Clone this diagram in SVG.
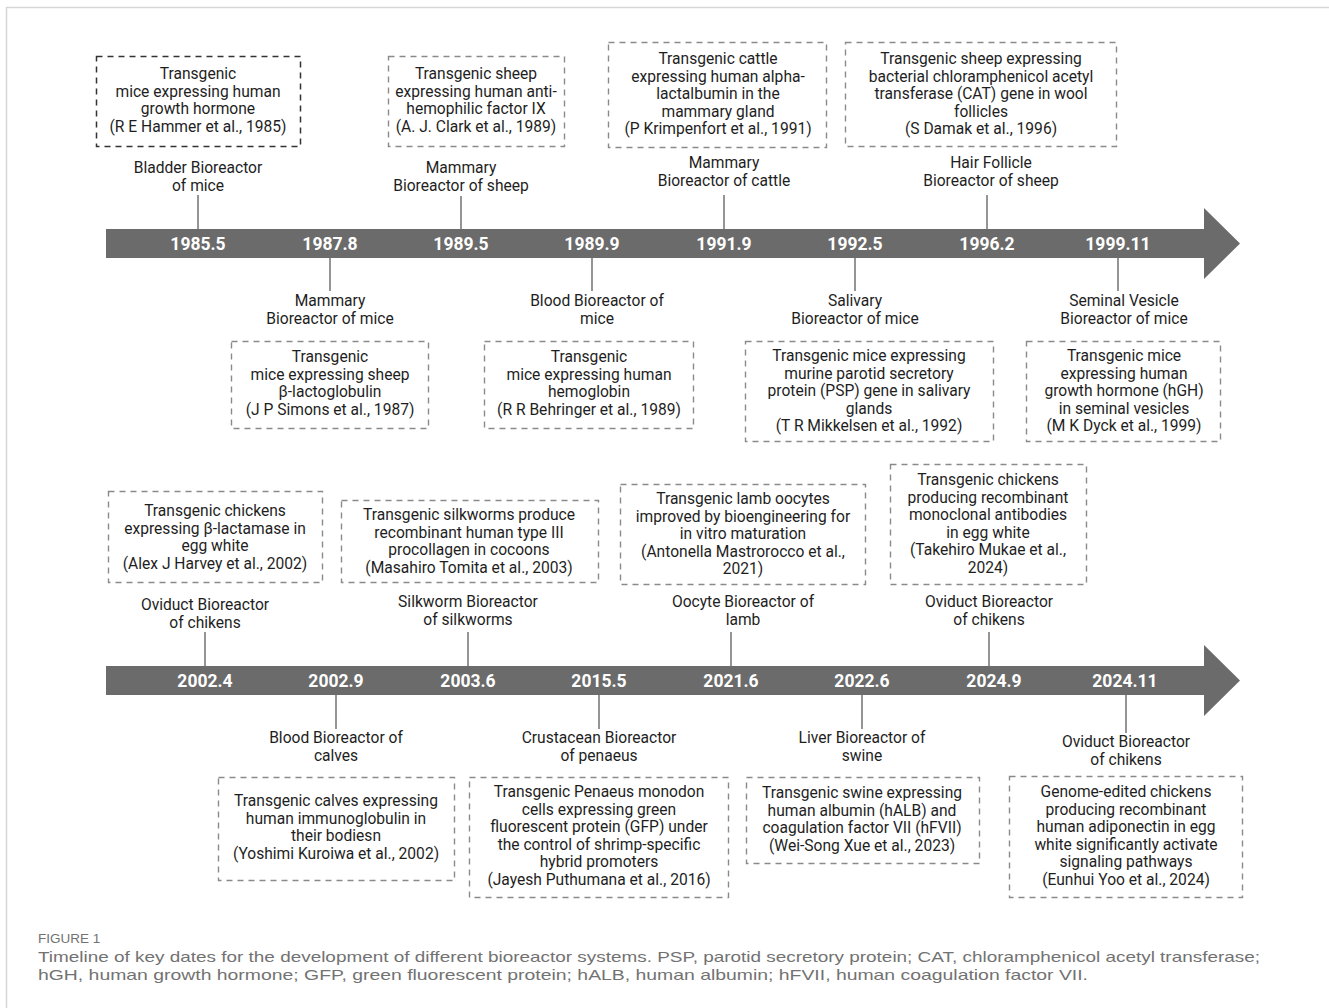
<svg xmlns="http://www.w3.org/2000/svg" width="1329" height="1008" viewBox="0 0 1329 1008">
<style>
.t{font-family:Roboto,"Liberation Sans",sans-serif;font-size:15.6px;fill:#1e1e1e;text-anchor:middle}
.d{font-family:Roboto,"Liberation Sans",sans-serif;font-size:17.5px;font-weight:bold;fill:#fff;text-anchor:middle}
.box{fill:none;stroke:#8a8a8a;stroke-width:1.4;stroke-dasharray:6 5}
.box0{fill:none;stroke:#333;stroke-width:1.5;stroke-dasharray:6 5}
.ln{stroke:#7a7a7a;stroke-width:1.6}
.bar{fill:#6b6b6b}
.cap{font-family:"Liberation Sans",sans-serif;font-size:15px;fill:#727272}
</style>
<rect width="1329" height="1008" fill="#fff"/>
<path d="M6.5 1008V7.5H1329" fill="none" stroke="#d6d6d6" stroke-width="1.5"/>

<g id="timeline1">
<path class="bar" d="M106 229H1204V208L1240 243.5L1204 279V258H106Z"/>
<text class="d" x="198" y="249.5">1985.5</text>
<text class="d" x="330" y="249.5">1987.8</text>
<text class="d" x="461" y="249.5">1989.5</text>
<text class="d" x="592" y="249.5">1989.9</text>
<text class="d" x="724" y="249.5">1991.9</text>
<text class="d" x="855" y="249.5">1992.5</text>
<text class="d" x="987" y="249.5">1996.2</text>
<text class="d" x="1118" y="249.5">1999.11</text>
</g>
<g id="timeline2">
<path class="bar" d="M106 666H1204V645L1240 680.5L1204 716V695H106Z"/>
<text class="d" x="205" y="686.5">2002.4</text>
<text class="d" x="336" y="686.5">2002.9</text>
<text class="d" x="468" y="686.5">2003.6</text>
<text class="d" x="599" y="686.5">2015.5</text>
<text class="d" x="731" y="686.5">2021.6</text>
<text class="d" x="862" y="686.5">2022.6</text>
<text class="d" x="994" y="686.5">2024.9</text>
<text class="d" x="1125" y="686.5">2024.11</text>
</g>

<g id="connectors">
<line class="ln" x1="198" y1="195" x2="198" y2="229"/>
<line class="ln" x1="461" y1="196" x2="461" y2="229"/>
<line class="ln" x1="724" y1="195" x2="724" y2="229"/>
<line class="ln" x1="987" y1="195" x2="987" y2="229"/>
<line class="ln" x1="330" y1="258" x2="330" y2="291"/>
<line class="ln" x1="592" y1="258" x2="592" y2="291"/>
<line class="ln" x1="855" y1="258" x2="855" y2="291"/>
<line class="ln" x1="1118" y1="258" x2="1118" y2="291"/>
<line class="ln" x1="205" y1="632" x2="205" y2="666"/>
<line class="ln" x1="468" y1="632" x2="468" y2="666"/>
<line class="ln" x1="731" y1="632" x2="731" y2="666"/>
<line class="ln" x1="989" y1="632" x2="989" y2="666"/>
<line class="ln" x1="336" y1="695" x2="336" y2="729"/>
<line class="ln" x1="599" y1="695" x2="599" y2="729"/>
<line class="ln" x1="862" y1="695" x2="862" y2="729"/>
<line class="ln" x1="1126" y1="695" x2="1126" y2="733"/>
</g>

<g id="n1985">
<rect class="box0" x="96.5" y="56.5" width="204" height="90"/>
<text class="t" x="198" y="79">Transgenic</text>
<text class="t" x="198" y="96.5">mice expressing human</text>
<text class="t" x="198" y="114">growth hormone</text>
<text class="t" x="198" y="131.5">(R E Hammer et al., 1985)</text>
<text class="t" x="198" y="173">Bladder Bioreactor</text>
<text class="t" x="198" y="190.5">of mice</text>
</g>
<g id="n1989a">
<rect class="box" x="388.5" y="56.5" width="176" height="90"/>
<text class="t" x="476" y="79">Transgenic sheep</text>
<text class="t" x="476" y="96.5">expressing human anti-</text>
<text class="t" x="476" y="114">hemophilic factor IX</text>
<text class="t" x="476" y="131.5">(A. J. Clark et al., 1989)</text>
<text class="t" x="461" y="173">Mammary</text>
<text class="t" x="461" y="190.5">Bioreactor of sheep</text>
</g>
<g id="n1991">
<rect class="box" x="608.5" y="42.5" width="218" height="105"/>
<text class="t" x="718" y="64">Transgenic cattle</text>
<text class="t" x="718" y="81.5">expressing human alpha-</text>
<text class="t" x="718" y="99">lactalbumin in the</text>
<text class="t" x="718" y="116.5">mammary gland</text>
<text class="t" x="718" y="134">(P Krimpenfort et al., 1991)</text>
<text class="t" x="724" y="168">Mammary</text>
<text class="t" x="724" y="185.5">Bioreactor of cattle</text>
</g>
<g id="n1996">
<rect class="box" x="845.5" y="42.5" width="271" height="104"/>
<text class="t" x="981" y="64">Transgenic sheep expressing</text>
<text class="t" x="981" y="81.5">bacterial chloramphenicol acetyl</text>
<text class="t" x="981" y="99">transferase (CAT) gene in wool</text>
<text class="t" x="981" y="116.5">follicles</text>
<text class="t" x="981" y="134">(S Damak et al., 1996)</text>
<text class="t" x="991" y="168">Hair Follicle</text>
<text class="t" x="991" y="185.5">Bioreactor of sheep</text>
</g>
<g id="n1987">
<text class="t" x="330" y="306">Mammary</text>
<text class="t" x="330" y="323.5">Bioreactor of mice</text>
<rect class="box" x="231.5" y="341.5" width="197" height="87"/>
<text class="t" x="330" y="362">Transgenic</text>
<text class="t" x="330" y="379.5">mice expressing sheep</text>
<text class="t" x="330" y="397">β-lactoglobulin</text>
<text class="t" x="330" y="414.5">(J P Simons et al., 1987)</text>
</g>
<g id="n1989b">
<text class="t" x="597" y="306">Blood Bioreactor of</text>
<text class="t" x="597" y="323.5">mice</text>
<rect class="box" x="484.5" y="341.5" width="209" height="87"/>
<text class="t" x="589" y="362">Transgenic</text>
<text class="t" x="589" y="379.5">mice expressing human</text>
<text class="t" x="589" y="397">hemoglobin</text>
<text class="t" x="589" y="414.5">(R R Behringer et al., 1989)</text>
</g>
<g id="n1992">
<text class="t" x="855" y="306">Salivary</text>
<text class="t" x="855" y="323.5">Bioreactor of mice</text>
<rect class="box" x="745.5" y="341.5" width="248" height="100"/>
<text class="t" x="869" y="361">Transgenic mice expressing</text>
<text class="t" x="869" y="378.5">murine parotid secretory</text>
<text class="t" x="869" y="396">protein (PSP) gene in salivary</text>
<text class="t" x="869" y="413.5">glands</text>
<text class="t" x="869" y="431">(T R Mikkelsen et al., 1992)</text>
</g>
<g id="n1999">
<text class="t" x="1124" y="306">Seminal Vesicle</text>
<text class="t" x="1124" y="323.5">Bioreactor of mice</text>
<rect class="box" x="1026.5" y="341.5" width="194" height="100"/>
<text class="t" x="1124" y="361">Transgenic mice</text>
<text class="t" x="1124" y="378.5">expressing human</text>
<text class="t" x="1124" y="396">growth hormone (hGH)</text>
<text class="t" x="1124" y="413.5">in seminal vesicles</text>
<text class="t" x="1124" y="431">(M K Dyck et al., 1999)</text>
</g>

<g id="n2002a">
<rect class="box" x="108.5" y="491.5" width="214" height="91"/>
<text class="t" x="215" y="516">Transgenic chickens</text>
<text class="t" x="215" y="533.5">expressing β-lactamase in</text>
<text class="t" x="215" y="551">egg white</text>
<text class="t" x="215" y="568.5">(Alex J Harvey et al., 2002)</text>
<text class="t" x="205" y="610">Oviduct Bioreactor</text>
<text class="t" x="205" y="627.5">of chikens</text>
</g>
<g id="n2003">
<rect class="box" x="341.5" y="500.5" width="257" height="82"/>
<text class="t" x="469" y="520">Transgenic silkworms produce</text>
<text class="t" x="469" y="537.5">recombinant human type III</text>
<text class="t" x="469" y="555">procollagen in cocoons</text>
<text class="t" x="469" y="572.5">(Masahiro Tomita et al., 2003)</text>
<text class="t" x="468" y="607">Silkworm Bioreactor</text>
<text class="t" x="468" y="624.5">of silkworms</text>
</g>
<g id="n2021">
<rect class="box" x="620.5" y="484.5" width="245" height="100"/>
<text class="t" x="743" y="504">Transgenic lamb oocytes</text>
<text class="t" x="743" y="521.5">improved by bioengineering for</text>
<text class="t" x="743" y="539">in vitro maturation</text>
<text class="t" x="743" y="556.5">(Antonella Mastrorocco et al.,</text>
<text class="t" x="743" y="574">2021)</text>
<text class="t" x="743" y="607">Oocyte Bioreactor of</text>
<text class="t" x="743" y="624.5">lamb</text>
</g>
<g id="n2024a">
<rect class="box" x="890.5" y="464.5" width="196" height="120"/>
<text class="t" x="988" y="485">Transgenic chickens</text>
<text class="t" x="988" y="502.5">producing recombinant</text>
<text class="t" x="988" y="520">monoclonal antibodies</text>
<text class="t" x="988" y="537.5">in egg white</text>
<text class="t" x="988" y="555">(Takehiro Mukae et al.,</text>
<text class="t" x="988" y="572.5">2024)</text>
<text class="t" x="989" y="607">Oviduct Bioreactor</text>
<text class="t" x="989" y="624.5">of chikens</text>
</g>

<g id="n2002b">
<text class="t" x="336" y="743">Blood Bioreactor of</text>
<text class="t" x="336" y="760.5">calves</text>
<rect class="box" x="218.5" y="777.5" width="236" height="103"/>
<text class="t" x="336" y="806">Transgenic calves expressing</text>
<text class="t" x="336" y="823.5">human immunoglobulin in</text>
<text class="t" x="336" y="841">their bodiesn</text>
<text class="t" x="336" y="858.5">(Yoshimi Kuroiwa et al., 2002)</text>
</g>
<g id="n2015">
<text class="t" x="599" y="743">Crustacean Bioreactor</text>
<text class="t" x="599" y="760.5">of penaeus</text>
<rect class="box" x="469.5" y="777.5" width="259" height="120"/>
<text class="t" x="599" y="797">Transgenic Penaeus monodon</text>
<text class="t" x="599" y="814.5">cells expressing green</text>
<text class="t" x="599" y="832">fluorescent protein (GFP) under</text>
<text class="t" x="599" y="849.5">the control of shrimp-specific</text>
<text class="t" x="599" y="867">hybrid promoters</text>
<text class="t" x="599" y="884.5">(Jayesh Puthumana et al., 2016)</text>
</g>
<g id="n2022">
<text class="t" x="862" y="743">Liver Bioreactor of</text>
<text class="t" x="862" y="760.5">swine</text>
<rect class="box" x="746.5" y="777.5" width="233" height="86"/>
<text class="t" x="862" y="798">Transgenic swine expressing</text>
<text class="t" x="862" y="815.5">human albumin (hALB) and</text>
<text class="t" x="862" y="833">coagulation factor VII (hFVII)</text>
<text class="t" x="862" y="850.5">(Wei-Song Xue et al., 2023)</text>
</g>
<g id="n2024b">
<text class="t" x="1126" y="747">Oviduct Bioreactor</text>
<text class="t" x="1126" y="764.5">of chikens</text>
<rect class="box" x="1009.5" y="776.5" width="233" height="121"/>
<text class="t" x="1126" y="797">Genome-edited chickens</text>
<text class="t" x="1126" y="814.5">producing recombinant</text>
<text class="t" x="1126" y="832">human adiponectin in egg</text>
<text class="t" x="1126" y="849.5">white significantly activate</text>
<text class="t" x="1126" y="867">signaling pathways</text>
<text class="t" x="1126" y="884.5">(Eunhui Yoo et al., 2024)</text>
</g>

<g id="caption">
<text class="cap" x="38" y="943" style="font-size:13.5px">FIGURE 1</text>
<text class="cap" x="38" y="962" textLength="1222" lengthAdjust="spacingAndGlyphs">Timeline of key dates for the development of different bioreactor systems. PSP, parotid secretory protein; CAT, chloramphenicol acetyl transferase;</text>
<text class="cap" x="38" y="980" textLength="1050" lengthAdjust="spacingAndGlyphs">hGH, human growth hormone; GFP, green fluorescent protein; hALB, human albumin; hFVII, human coagulation factor VII.</text>
</g>
</svg>
